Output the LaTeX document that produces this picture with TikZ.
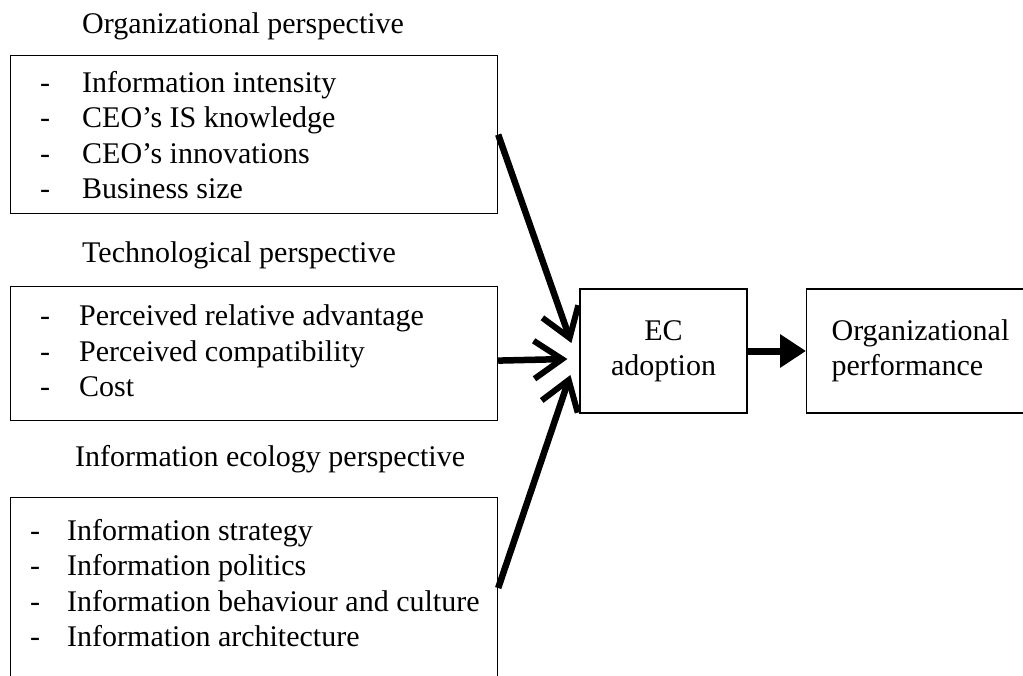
\documentclass[tikz,border=0pt]{standalone}
\usepackage{fontspec}
\setmainfont{Liberation Serif}
\usetikzlibrary{arrows.meta}
\newcommand\bul[1]{\makebox[#1][l]{-}}
\tikzset{
  box/.style={rectangle,draw,line width=1.2pt,inner sep=0pt},
  list/.style={align=left,inner sep=0pt,font=\fontsize{30}{35.5}\selectfont},
  head/.style={inner sep=0pt,font=\fontsize{30}{35}\selectfont},
  feed/.style={line width=6.5pt,-{Straight Barb[length=28pt,width=38pt,line width=6pt]}}
}
\begin{document}
\begin{tikzpicture}[x=1pt,y=-1pt]
\useasboundingbox (0,0) rectangle (1023,675);

\node (orgtitle) [head,anchor=west] at (82,26) {Organizational perspective};
\node (orgbox) [box,minimum width=487pt,minimum height=158pt,anchor=north west] at (10,55) {};
\node (orglist) [list,anchor=west] at (40,135) {\bul{42pt}Information intensity\\ \bul{42pt}CEO’s IS knowledge\\ \bul{42pt}CEO’s innovations\\ \bul{42pt}Business size};

\node (techtitle) [head,anchor=west] at (82,255) {Technological perspective};
\node (techbox) [box,minimum width=487pt,minimum height=134pt,anchor=north west] at (10,286) {};
\node (techlist) [list,anchor=west] at (40,351) {\bul{39pt}Perceived relative advantage\\ \bul{39pt}Perceived compatibility\\ \bul{39pt}Cost};

\node (ecotitle) [head,anchor=west] at (75,459) {Information ecology perspective};
\node (ecobox) [box,minimum width=487pt,minimum height=220pt,anchor=north west] at (10,497) {};
\node (ecolist) [list,anchor=west] at (30,583) {\bul{37pt}Information strategy\\ \bul{37pt}Information politics\\ \bul{37pt}Information behaviour and culture\\ \bul{37pt}Information architecture};

\node (ec) [box,minimum width=167pt,minimum height=124pt,align=center,font=\fontsize{30}{35}\selectfont] at (663.5,351) {EC\\adoption};
\node (perf) [box,minimum width=240pt,minimum height=124pt,anchor=west,align=left,font=\fontsize{30}{35}\selectfont,text width=190pt] at (806,351) {Organizational\\performance};

\draw [feed] (orgbox.east) -- ([xshift=-8pt,yshift=8pt]ec.west);
\draw [feed] ([yshift=-7pt]techbox.east) -- ([xshift=-12pt,yshift=-8pt]ec.west);
\draw [feed] ([yshift=-91pt]ecobox.north east) -- ([xshift=-9pt,yshift=-24pt]ec.west);
\draw [line width=7pt,-{Triangle[length=26pt,width=32pt]}] (ec.east) -- (perf.west);
\end{tikzpicture}
\end{document}
